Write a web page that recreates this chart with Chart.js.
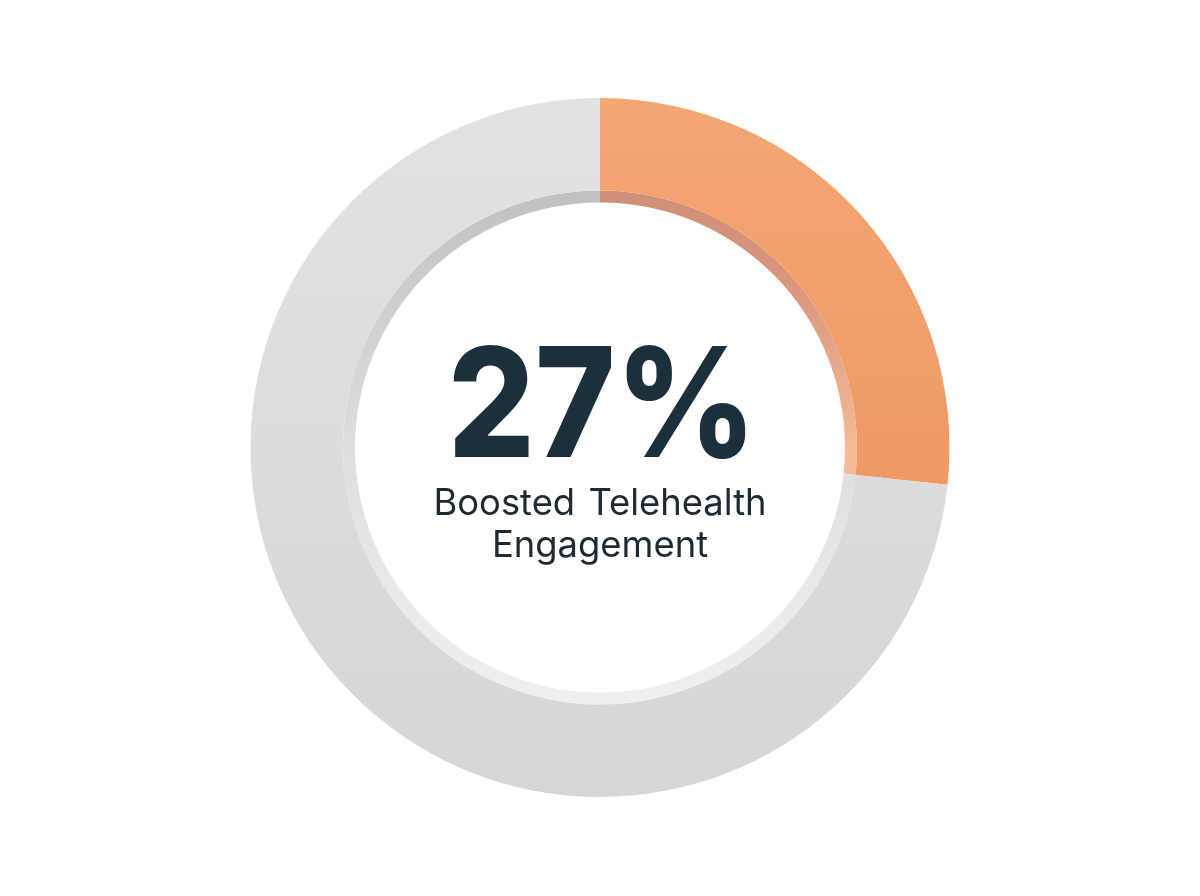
<!DOCTYPE html>
<html>
<head>
<meta charset="utf-8">
<title>Boosted Telehealth Engagement</title>
<script src="https://cdn.jsdelivr.net/npm/chart.js@4/dist/chart.umd.min.js"></script>
<style>
  html, body { margin: 0; background: #fff; }
  #wrap { width: 1200px; height: 896px; }
</style>
</head>
<body>
<div id="wrap"><canvas id="ringChart" width="1200" height="896"></canvas></div>
<script>
const categories = ['Boosted Telehealth Engagement', 'Other'];
// slice measured off the ring, the printed label rounds it to 27
const shares = [26.7, 73.3];
const bigLabel = '27%';
const captionLines = ['Boosted Telehealth', 'Engagement'];

function vertical(c, stops) {
  const area = c.chart.chartArea;
  if (!area) return stops[0];
  const g = c.chart.ctx.createLinearGradient(0, area.top, 0, area.bottom);
  stops.forEach((s, i) => g.addColorStop(i / (stops.length - 1), s));
  return g;
}

// band colours: index 0 is the orange slice, 1 the grey rest
const bandColor = (c) => c.dataIndex === 0
  ? vertical(c, ['#f4a773', '#ef9a66', '#ee9862'])
  : vertical(c, ['#e2e2e2', '#dcdcdc', '#d6d6d6']);

// thin bevel inside the band, dark at the top and light at the bottom
const rimColor = (c) => c.dataIndex === 0
  ? vertical(c, ['#c88a74', '#d8947c', '#f4ba99', '#f6c4a6', '#f6c4a6'])
  : vertical(c, ['#b4b4b4', '#cbcbcb', '#dedede', '#ebebeb', '#f4f4f4']);

const centerText = {
  id: 'centerText',
  afterDraw(chart) {
    const ctx = chart.ctx;
    ctx.save();
    ctx.textAlign = 'center';
    ctx.textBaseline = 'alphabetic';
    ctx.fillStyle = '#1c2f3d';
    ctx.font = '800 152px Inter, sans-serif';
    // squeezed a little, the original digits are narrower than Inter's
    ctx.save();
    ctx.translate(602, 457);
    ctx.scale(0.9, 1);
    ctx.fillText(bigLabel, 0, 0);
    ctx.restore();
    ctx.font = '36.4px Inter, sans-serif';
    ctx.fillStyle = '#1c2a35';
    ctx.wordSpacing = '3px';
    ctx.fillText(captionLines[0], 600, 515);
    ctx.fillText(captionLines[1], 600, 557);
    ctx.restore();
  },
};

new Chart(document.getElementById('ringChart').getContext('2d'), {
  type: 'doughnut',
  data: {
    labels: categories,
    datasets: [
      { data: shares, backgroundColor: bandColor, borderWidth: 0, weight: 92.5 },
      { data: shares, backgroundColor: rimColor, borderWidth: 0, weight: 12 },
    ],
  },
  options: {
    responsive: false,
    animation: false,
    cutout: 245,
    layout: { padding: { top: 98, bottom: 99 } },
    plugins: {
      legend: { display: false },
      tooltip: { enabled: false },
    },
  },
  plugins: [centerText],
});
</script>
</body>
</html>
